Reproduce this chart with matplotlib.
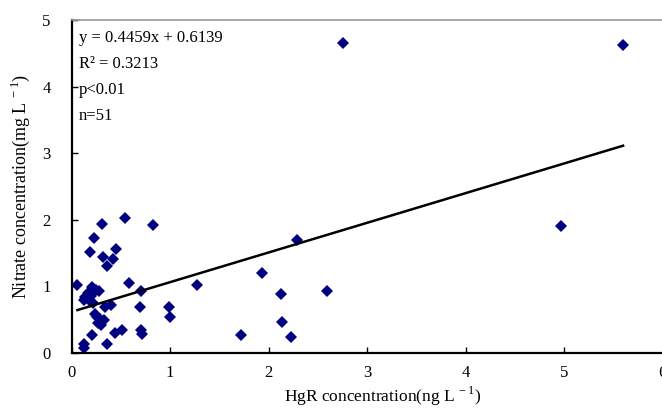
import numpy as np
import matplotlib
matplotlib.use("Agg")
import matplotlib.pyplot as plt

# --- DATA: HgR vs nitrate ---
hgr = [2.76, 5.60, 4.97,
       1.27, 1.72, 1.93, 2.13, 2.14, 2.23, 2.29, 2.59,
       0.83,
       0.31, 0.54, 0.225, 0.185, 0.455, 0.32, 0.42, 0.36,
       0.58, 0.06,
       0.71, 0.70, 0.99, 1.00, 0.71, 0.72,
       0.34, 0.40,
       0.21, 0.44, 0.51,
       0.36, 0.13, 0.13,
       0.21, 0.25, 0.28, 0.17, 0.14, 0.13, 0.19, 0.22, 0.20,
       0.24, 0.26, 0.29, 0.33, 0.27, 0.30]
nitrate = [4.66, 4.62, 1.91,
           1.01, 0.26, 1.20, 0.88, 0.46, 0.24, 1.69, 0.93,
           1.92,
           1.94, 2.02, 1.73, 1.52, 1.56, 1.44, 1.41, 1.31,
           1.05, 1.01,
           0.92, 0.68, 0.68, 0.54, 0.34, 0.28,
           0.69, 0.71,
           0.27, 0.30, 0.34,
           0.13, 0.13, 0.07,
           0.98, 0.94, 0.92, 0.89, 0.83, 0.79, 0.78, 0.75, 0.85,
           0.58, 0.54, 0.51, 0.49, 0.45, 0.42]

slope = 0.4459
intercept = 0.6139
stats_lines = ["y = 0.4459x + 0.6139", "R² = 0.3213", "p<0.01", "n=51"]

plt.rcParams['font.family'] = ['Liberation Serif', 'DejaVu Serif']
plt.rcParams['mathtext.fontset'] = 'custom'
plt.rcParams['mathtext.rm'] = 'Liberation Serif'

fig = plt.figure(figsize=(6.62, 4.12), dpi=100)
ax = fig.add_axes([71.5 / 662, 59.3 / 412, 591 / 662, 332.7 / 412])

ax.plot(hgr, nitrate, linestyle='none', marker='D', markersize=6.3,
        color='#000080', markeredgewidth=0)

# fitted line over the data range
fx = np.array([min(hgr), max(hgr)])
ax.plot(fx, slope * fx + intercept, color='black', linewidth=1.8)

ax.set_xlim(0, 6)
ax.set_ylim(0, 5)
ax.set_xticks(range(0, 7))
ax.set_yticks(range(0, 6))
ax.tick_params(direction='in', length=4, width=1, labelsize=12)
ax.tick_params(axis='x', pad=9)
ax.tick_params(axis='y', pad=15)

for side in ['left', 'bottom']:
    ax.spines[side].set_linewidth(1.6)
ax.spines['top'].set_color('#999999')
ax.spines['top'].set_linewidth(1.2)
ax.spines['right'].set_visible(False)

for i, s in enumerate(stats_lines):
    ax.text(0.012, 0.945 - i * 0.0775, s, transform=ax.transAxes,
            fontsize=12, va='center', ha='left')

ax.set_xlabel("HgR concentration(ng L$^{\\,-1}$)", fontsize=12.5)
ax.xaxis.set_label_coords(0.527, -0.095)
ax.set_ylabel("Nitrate concentration(mg L$^{\\,-1}$)", fontsize=13)
ax.yaxis.set_label_coords(-0.066, 0.5)

fig.savefig("out.png", dpi=100)
